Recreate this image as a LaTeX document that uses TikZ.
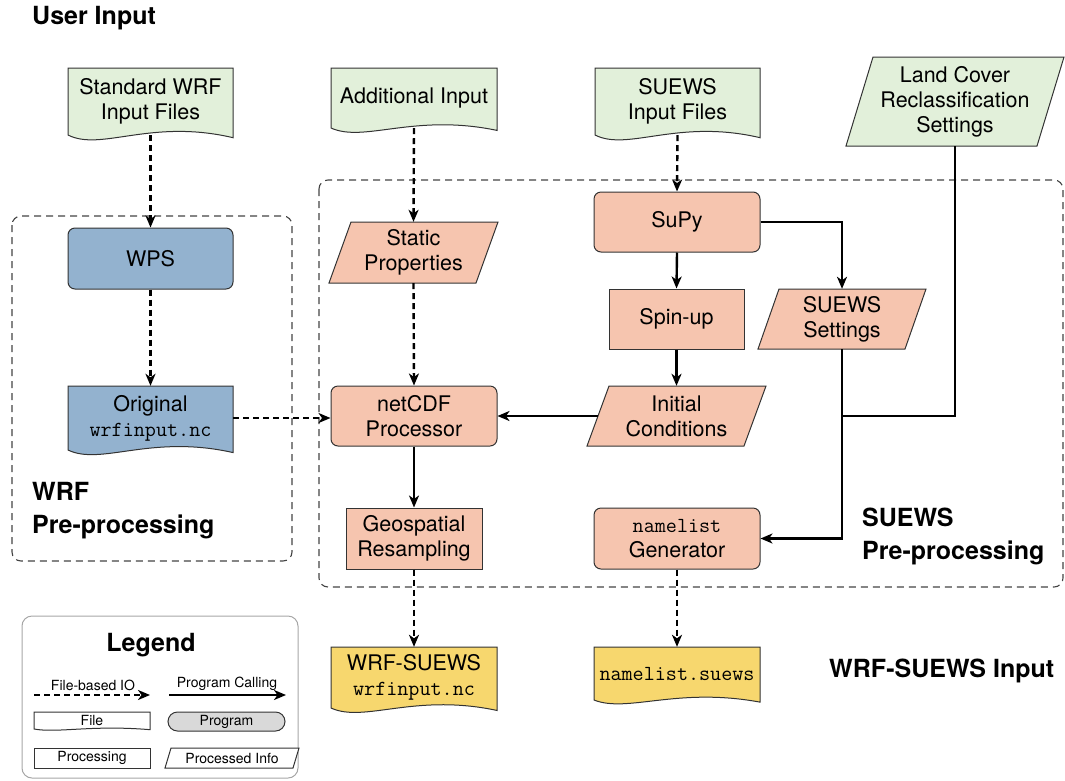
\documentclass[tikz,border=0pt]{standalone}
\usepackage{fontspec}
\setmainfont{TeX Gyre Heros}
\usetikzlibrary{arrows.meta}
\definecolor{cgreen}{HTML}{E2F0DA}
\definecolor{cblue}{HTML}{93B2CF}
\definecolor{csalmon}{HTML}{F6C5AF}
\definecolor{cyellow}{HTML}{F7D76E}
\definecolor{cgray}{HTML}{D9D9D9}
\definecolor{cborder}{HTML}{333333}
\definecolor{cframe}{HTML}{444444}
\tikzset{
  shapeline/.style={draw=cborder, line width=1pt},
  txt/.style={inner sep=0pt, align=center, text=black},
  fileio/.style={line width=2.4pt, dash pattern=on 6pt off 4pt, -{Stealth[length=12pt,width=10pt,inset=3.5pt]}},
  callarrow/.style={line width=2.4pt, -{Stealth[length=12pt,width=10pt,inset=3.5pt]}},
  callline/.style={line width=2.4pt},
  frame/.style={draw=cframe, line width=1.1pt, dash pattern=on 7pt off 5pt, rounded corners=9pt},
  bigbold/.style={font=\fontsize{25}{33}\selectfont\bfseries, inner sep=0pt, align=left, anchor=west},
  legtxt/.style={font=\fontsize{14}{16}\selectfont},
}
% document shape: name, L, R, T, B, fill, text
\newcommand\docnode[7]{%
  \path[shapeline, fill=#6] (#2,#4) -- (#3,#4) -- (#3,{#5+0.04*(#5-#4)})
    .. controls ({#3-0.5*(#3-#2)},{#5-0.25*(#5-#4)}) and ({#2+0.2*(#3-#2)},{#5+0.25*(#5-#4)}) .. (#2,#5) -- cycle;
  \node[txt, minimum width={#3-#2}, minimum height={#5-#4}] (#1) at ({(#2+#3)/2},{(#4+#5)/2}) {#7};
}
% parallelogram: name, L(bottom-left), R(top-right), T, B, slant, fill, text
\newcommand\paranode[8]{%
  \path[shapeline, fill=#7] ({#2+#6},#4) -- (#3,#4) -- ({#3-#6},#5) -- (#2,#5) -- cycle;
  \node[txt, minimum width={#3-#2-#6}, minimum height={#5-#4}] (#1) at ({(#2+#3)/2},{(#4+#5)/2}) {#8};
}
% box: name, L, R, T, B, extra style, text
\newcommand\boxnode[7]{%
  \node[txt, shapeline, #6, minimum width={#3-#2}, minimum height={#5-#4}] (#1) at ({(#2+#3)/2},{(#4+#5)/2}) {#7};
}
\begin{document}
\begin{tikzpicture}[x=1pt,y=-1pt, font=\fontsize{21.5}{25}\selectfont]
\useasboundingbox (0,0) rectangle (1065,780);

% frames
\draw[frame] (12,216) rectangle (292,561);
\draw[frame] (319,180) rectangle (1063,587);

% titles
\node[bigbold] (tuser) at (32,18) {User Input};
\node[bigbold] (twrf) at (32,511) {WRF\\Pre-processing};
\node[bigbold] (tsuews) at (862,536) {SUEWS\\Pre-processing};
\node[bigbold] (tws) at (829,671) {WRF-SUEWS Input};

% user input
\docnode{stdwrf}{68}{233}{68}{135}{cgreen}{Standard WRF\\Input Files}
\docnode{addin}{331}{497}{68}{128}{cgreen}{Additional Input}
\docnode{suewsin}{595}{760}{68}{135}{cgreen}{SUEWS\\Input Files}
\paranode{landcover}{846}{1064}{57}{146}{27}{cgreen}{Land Cover\\Reclassification\\Settings}

% WRF pre-processing
\boxnode{wps}{68}{233}{228}{289}{fill=cblue, rounded corners=7pt}{WPS}
\docnode{orig}{68}{233}{386}{450}{cblue}{Original\\\texttt{wrfinput.nc}}

% SUEWS pre-processing
\paranode{static}{329}{498}{222}{283}{22}{csalmon}{Static\\Properties}
\boxnode{supy}{594}{760}{192}{252}{fill=csalmon, rounded corners=7pt}{SuPy}
\boxnode{spinup}{609}{744}{289}{349}{fill=csalmon}{Spin-up}
\paranode{settings}{758}{926}{289}{349}{21}{csalmon}{SUEWS\\Settings}
\boxnode{netcdf}{331}{497}{386}{446}{fill=csalmon, rounded corners=7pt}{netCDF\\Processor}
\paranode{init}{587}{766}{386}{446}{22}{csalmon}{Initial\\Conditions}
\boxnode{geo}{346}{482}{508}{569}{fill=csalmon}{Geospatial\\Resampling}
\boxnode{gen}{594}{760}{508}{569}{fill=csalmon, rounded corners=7pt}{\texttt{namelist}\\Generator}

% outputs
\docnode{wsin}{331}{497}{647}{708}{cyellow}{WRF-SUEWS\\\texttt{wrfinput.nc}}
\docnode{nml}{594}{760}{647}{700}{cyellow}{\texttt{namelist.suews}}

% connectors
\draw[fileio] (stdwrf.south) -- (wps.north);
\draw[fileio] (wps.south) -- (orig.north);
\draw[fileio] (orig.east) -- (orig.east -| netcdf.west);
\draw[fileio] (addin.south) -- (static.north);
\draw[fileio] (static.south) -- (netcdf.north);
\draw[fileio] (suewsin.south) -- (supy.north);
\draw[callarrow] (supy.south) -- (spinup.north);
\draw[callarrow] (supy.east) -| (settings.north);
\draw[callarrow] (spinup.south) -- (init.north);
\draw[callarrow] (init.west) -- (init.west -| netcdf.east);
\draw[callarrow] (netcdf.south) -- (geo.north);
\draw[callarrow] (settings.south) |- (gen.east);
\coordinate (lcjoin) at (842,416);
\draw[callline] (landcover.south) |- (lcjoin);
\draw[fileio] (geo.south) -- (wsin.north);
\draw[fileio] (gen.south) -- (nml.north);

% legend
\draw[draw=gray!70, line width=1pt, rounded corners=10pt] (22,616) rectangle (298,778);
\node[font=\fontsize{25}{30}\selectfont\bfseries, inner sep=0pt] (legtitle) at (151,645) {Legend};
\coordinate (lfa) at (34,695);
\coordinate (lfb) at (150,695);
\coordinate (lpa) at (169,695);
\coordinate (lpb) at (286,695);
\draw[fileio] (lfa) -- (lfb);
\draw[callarrow] (lpa) -- (lpb);
\node[legtxt, inner sep=0pt] (lfiletxt) at (93,685) {File-based IO};
\node[legtxt, inner sep=0pt] (lprogtxt) at (227,684) {Program Calling};
\begin{scope}[legtxt]
\docnode{lfile}{34}{150}{712}{729}{white}{File}
\boxnode{lprog}{168}{285}{712}{731}{fill=cgray, rounded corners=9.5pt}{Program}
\boxnode{lproc}{34}{150}{748}{768}{fill=white}{Processing}
\paranode{lpinfo}{165}{299}{748}{768}{6}{white}{Processed Info}
\end{scope}
\end{tikzpicture}
\end{document}
